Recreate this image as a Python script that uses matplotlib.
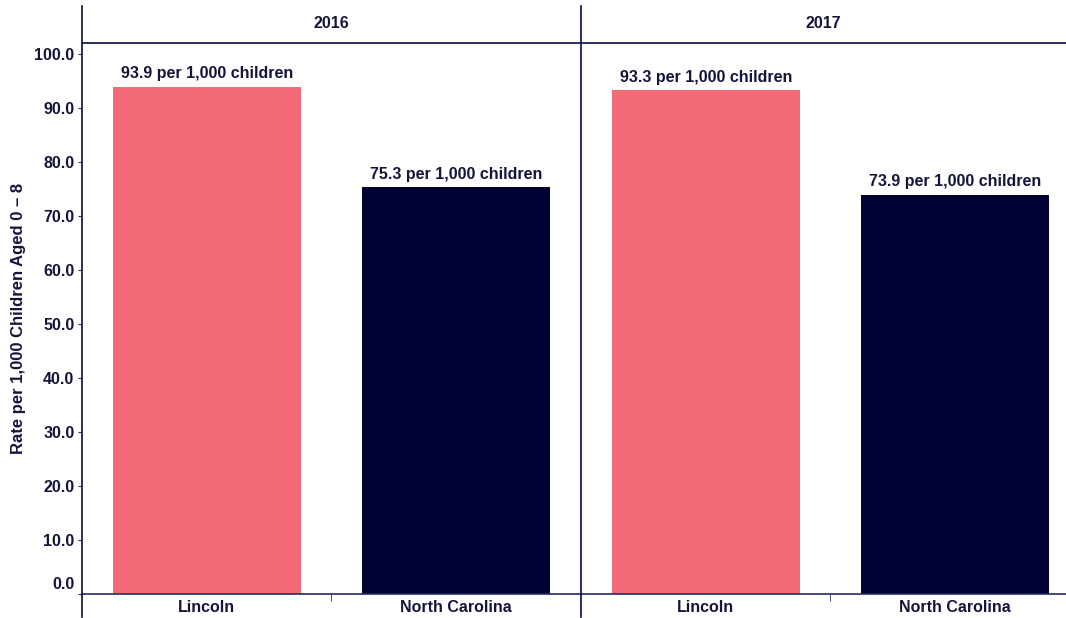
import matplotlib.pyplot as plt
from matplotlib.lines import Line2D

plt.rcParams['font.family'] = ['Liberation Sans', 'DejaVu Sans']
plt.rcParams['font.weight'] = 'bold'

years = ['2016', '2017']
places = ['Lincoln', 'North Carolina']
rates_2016 = [93.9, 75.3]
rates_2017 = [93.3, 73.9]
yticks = [0, 10, 20, 30, 40, 50, 60, 70, 80, 90, 100]

colors = ['#F26B77', '#000033']
txt = '#14143C'
line_c = '#0A0A40'

W, H = 1066, 618
fig = plt.figure(figsize=(W / 100, H / 100), dpi=100)

def fx(px):
    return px / W

def fy(py):
    return 1 - py / H

top, bottom = 43, 594
panels = [(82, 581, rates_2016, 1.5), (581, 1066, rates_2017, 1.444)]

for i, (x0, x1, vals, xmax) in enumerate(panels):
    ax = fig.add_axes([fx(x0), fy(bottom), fx(x1 - x0), (bottom - top) / H])
    ax.bar(range(len(places)), vals, width=0.754, color=colors)
    for k, v in enumerate(vals):
        ax.text(k, v + 1.0, f'{v:.1f} per 1,000 children', ha='center', va='bottom',
                fontsize=11.5, fontweight='bold', color=txt)
    ax.set_xlim(-0.5, xmax)
    ax.set_ylim(0, 102)
    for s in ['top', 'right', 'left']:
        ax.spines[s].set_visible(False)
    ax.spines['bottom'].set_color('#2A2A60')
    ax.spines['bottom'].set_linewidth(1.2)
    ax.set_xticks([0.5], minor=True)
    ax.tick_params(axis='x', which='minor', length=5, color='#2A2A60')
    ax.set_xticks(range(len(places)))
    ax.set_xticklabels(places, fontsize=11.5, fontweight='bold', color=txt)
    ax.tick_params(axis='x', which='major', length=0, pad=4)
    if i == 0:
        ax.set_yticks(yticks)
        labels = [f'{t:.1f}' for t in yticks]
        labels[0] = ''
        ax.set_yticklabels(labels, fontsize=11.5, fontweight='bold', color=txt)
        ax.tick_params(axis='y', length=3, color='#2A2A60', pad=2.5)
        # the 0.0 label sits a bit above its tick
        ax.annotate(f'{yticks[0]:.1f}', xy=(0, yticks[0]), xycoords=('axes fraction', 'data'),
                    xytext=(-5.5, 6.5), textcoords='offset points', ha='right', va='center',
                    fontsize=11.5, fontweight='bold', color=txt, annotation_clip=False)
        ax.set_ylabel('Rate per 1,000 Children Aged 0 \u2013 8', fontsize=12,
                      fontweight='bold', color=txt, labelpad=6)
    else:
        ax.set_yticks([])
    # facet header
    fig.text(fx((x0 + min(x1, x0 + 499)) / 2), fy(24), years[i], ha='center', va='center',
             fontsize=11.5, fontweight='bold', color=txt)

# header line and vertical separators
fig.add_artist(Line2D([fx(82), 1], [fy(top), fy(top)], color=line_c, lw=1.2))
for x in [82, 581]:
    fig.add_artist(Line2D([fx(x), fx(x)], [fy(6), fy(617)], color=line_c, lw=1.2))

fig.savefig('out.png', dpi=100)
